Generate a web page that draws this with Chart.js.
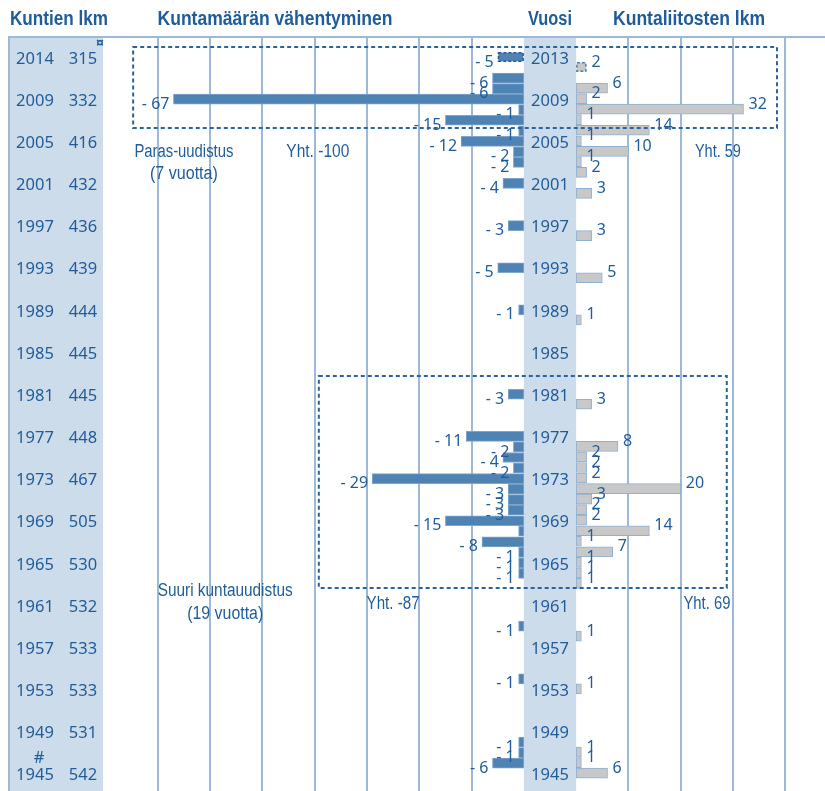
<!DOCTYPE html>
<html><head><meta charset="utf-8">
<script src="https://cdn.jsdelivr.net/npm/chart.js@4"></script>
<style>html,body{margin:0;padding:0;background:#fff}#wrap{width:825px;height:791px;position:relative}</style>
</head><body><div id="wrap"><canvas id="c" width="825" height="791"></canvas></div>
<script>
// ---- data ----
const years    = [2013, 2011, 2010, 2009, 2008, 2007, 2006, 2005, 2004, 2003, 2001, 1997, 1993, 1989, 1981, 1977, 1976, 1975, 1974, 1973, 1972, 1971, 1970, 1969, 1968, 1967, 1966, 1965, 1964, 1959, 1954, 1948, 1947, 1946];
const decrease = [5, 6, 6, 67, 1, 15, 1, 12, 2, 2, 4, 3, 5, 1, 3, 11, 2, 4, 2, 29, 3, 3, 3, 15, 1, 8, 1, 1, 1, 1, 1, 1, 1, 6];
const mergers  = [2, 6, 2, 32, 1, 14, 1, 10, 1, 2, 3, 3, 5, 1, 3, 8, 2, 2, 2, 20, 3, 2, 2, 14, 1, 7, 1, 1, 1, 1, 1, 1, 1, 6];
const forecastYear = 2013;
const unlabeledDecrease = [1968];
const centerYears = [2013, 2009, 2005, 2001, 1997, 1993, 1989, 1985, 1981, 1977, 1973, 1969, 1965, 1961, 1957, 1953, 1949, 1945];
const leftYears   = [2014, 2009, 2005, 2001, 1997, 1993, 1989, 1985, 1981, 1977, 1973, 1969, 1965, 1961, 1957, 1953, 1949, 1945];
const leftCounts  = [315, 332, 416, 432, 436, 439, 444, 445, 445, 448, 467, 505, 530, 532, 533, 533, 531, 542];
const headers = ['Kuntien lkm', 'Kuntamäärän vähentyminen', 'Vuosi', 'Kuntaliitosten lkm'];
const periods = [
  {name: 'Paras-uudistus', len: '(7 vuotta)', totalDec: 'Yht. -100', totalMer: 'Yht. 59'},
  {name: 'Suuri kuntauudistus', len: '(19 vuotta)', totalDec: 'Yht. -87', totalMer: 'Yht. 69'}
];
const gridValues = [-75, -65, -55, -45, -35, -25, -15, 15, 25, 35, 45];

// ---- layout / style ----
const GAP = 5;
const TXT = '#1f5c99';
const BAND = '#cddcea';
const SANS = '"Liberation Sans",Arial,sans-serif';
const NUM = '"Noto Sans","Open Sans",sans-serif';

function narrowText(ctx, text, x, y, w) { ctx.fillText(text, x, y, w); }

const deco = {
  id: 'deco',
  beforeDatasetsDraw(chart) {
    const ctx = chart.ctx, xs = chart.scales.x, a = chart.chartArea;
    const px = v => xs.getPixelForValue(v);
    ctx.save();
    ctx.fillStyle = BAND;
    ctx.fillRect(px(-GAP), a.top, px(GAP) - px(-GAP), a.bottom - a.top);
    ctx.fillRect(a.left + 2, a.top, 93, a.bottom - a.top);
    ctx.strokeStyle = '#9cb9d7';
    ctx.lineWidth = 2;
    ctx.beginPath();
    ctx.moveTo(a.left, a.top); ctx.lineTo(a.right, a.top);
    ctx.moveTo(a.left + 1, a.top); ctx.lineTo(a.left + 1, a.bottom);
    ctx.stroke();
    ctx.restore();
  },
  afterDatasetsDraw(chart) {
    const ctx = chart.ctx, xs = chart.scales.x, ys = chart.scales.y, a = chart.chartArea;
    const px = v => xs.getPixelForValue(v), py = v => ys.getPixelForValue(v);
    ctx.save();
    // forecast dashed outlines
    const fi = years.indexOf(forecastYear);
    [0, 1].forEach(d => {
      const el = chart.getDatasetMeta(d).data[fi];
      const l = Math.min(el.x, el.base), r = Math.max(el.x, el.base);
      ctx.setLineDash([3, 2]);
      ctx.strokeStyle = d === 0 ? '#1f5c99' : '#4f7fae';
      ctx.lineWidth = 1.5;
      ctx.strokeRect(l + 0.75, el.y - el.height / 2 + 0.75, r - l - 1.5, el.height - 1.5);
    });
    ctx.setLineDash([]);
    // value labels
    ctx.fillStyle = TXT;
    ctx.font = '16px ' + NUM;
    ctx.textBaseline = 'middle';
    years.forEach((y, i) => {
      const yy = py(y);
      if (!unlabeledDecrease.includes(y)) {
        ctx.textAlign = 'right';
        ctx.fillText('- ' + decrease[i], px(-GAP - decrease[i]) - 4, yy);
      }
      ctx.textAlign = 'left';
      ctx.fillText(String(mergers[i]), px(GAP + mergers[i]) + 5, yy);
    });
    // center and left column labels
    ctx.font = '16.5px ' + NUM;
    ctx.textAlign = 'center';
    centerYears.forEach((y, i) => {
      const yy = py(y) - 3;
      ctx.fillText(String(y), px(0), yy);
      ctx.fillText(String(leftYears[i]), a.left + 27, yy);
      ctx.fillText(String(leftCounts[i]), a.left + 75, yy);
    });
    ctx.fillText('#', a.left + 31, py(1947) + 1);
    ctx.font = 'bold 15px ' + NUM;
    ctx.fillText('¤', a.left + 92, a.top + 7);
    // period boxes & annotations
    ctx.strokeStyle = '#2a639d';
    ctx.lineWidth = 2;
    ctx.setLineDash([4, 3]);
    const boxes = [[-79.7, 43.4, 2014.42, 2006.74], [-44.2, 33.8, 1983.21, 1963.1]];
    boxes.forEach(b => {
      ctx.strokeRect(px(b[0]), py(b[2]), px(b[1]) - px(b[0]), py(b[3]) - py(b[2]));
    });
    ctx.setLineDash([]);
    ctx.font = '18px ' + SANS;
    ctx.textAlign = 'center';
    const ann = [
      [periods[0].name, -70, 2004.46, 99], [periods[0].len, -70, 2002.37, 68],
      [periods[0].totalDec, -44.4, 2004.46, 63], [periods[0].totalMer, 32.1, 2004.46, 46],
      [periods[1].name, -62.1, 1962.81, 135], [periods[1].len, -62.1, 1960.63, 76],
      [periods[1].totalDec, -30.0, 1961.58, 53], [periods[1].totalMer, 30.0, 1961.58, 47]
    ];
    ann.forEach(t => narrowText(ctx, t[0], px(t[1]), py(t[2]), t[3]));
    // headers
    ctx.font = 'bold 20px ' + SANS;
    const hx = [59, 275, 550, 689], hw = [98, 235, 44, 152];
    headers.forEach((h, i) => narrowText(ctx, h, hx[i], 19, hw[i]));
    ctx.restore();
  }
};

new Chart(document.getElementById('c'), {
  type: 'bar',
  data: {
    datasets: [
      {
        label: headers[1],
        data: years.map((y, i) => ({y: y, x: [-GAP - decrease[i], -GAP]})),
        backgroundColor: '#4f83b3',
        borderColor: years.map(y => y === forecastYear ? 'rgba(0,0,0,0)' : '#7ea5cc'),
        borderWidth: 1, borderSkipped: false, barThickness: 10
      },
      {
        label: headers[3],
        data: years.map((y, i) => ({y: y, x: [GAP, GAP + mergers[i]]})),
        backgroundColor: '#c8c8c9',
        borderColor: years.map(y => y === forecastYear ? 'rgba(0,0,0,0)' : '#8eb0d2'),
        borderWidth: 1, borderSkipped: false, barThickness: 10
      }
    ]
  },
  options: {
    indexAxis: 'y', responsive: false, animation: false, devicePixelRatio: 1,
    layout: {padding: {top: 37, left: 8, right: 0, bottom: 0}},
    plugins: {legend: {display: false}, tooltip: {enabled: false}},
    scales: {
      x: {
        type: 'linear', min: -103.63, max: 52.58, offset: false,
        afterBuildTicks: s => { s.ticks = gridValues.map(v => ({value: v})); },
        ticks: {display: false},
        grid: {color: '#9cb9d7', lineWidth: 2, drawTicks: false, offset: false},
        border: {display: false}
      },
      y: {type: 'linear', min: 1943.83, max: 2015.37, display: false, offset: false, grid: {offset: false}}
    }
  },
  plugins: [deco]
});
</script></body></html>
